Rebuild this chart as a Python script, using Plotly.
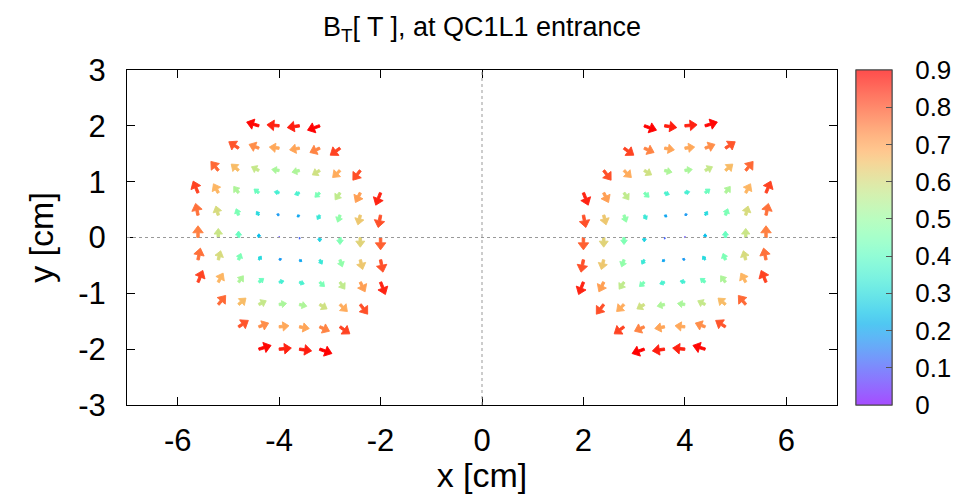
import math
import plotly.graph_objects as go

# Grid rows (y, cm), top to bottom
row_y = [2.0, 1.6, 1.2, 0.8, 0.4, 0.0, -0.4, -0.8, -1.2, -1.6, -2.0]

# Left aperture: sample positions (x, cm) per row and transverse field (T)
left_x = [
    [-4.4, -4.0, -3.6, -3.2],
    [-4.8, -4.4, -4.0, -3.6, -3.2, -2.8],
    [-5.2, -4.8, -4.4, -4.0, -3.6, -3.2, -2.8, -2.4],
    [-5.6, -5.2, -4.8, -4.4, -4.0, -3.6, -3.2, -2.8, -2.4, -2.0],
    [-5.6, -5.2, -4.8, -4.4, -4.0, -3.6, -3.2, -2.8, -2.4, -2.0],
    [-5.6, -5.2, -4.8, -4.4, -4.0, -3.6, -3.2, -2.8, -2.4, -2.0],
    [-5.6, -5.2, -4.8, -4.4, -4.0, -3.6, -3.2, -2.8, -2.4, -2.0],
    [-5.6, -5.2, -4.8, -4.4, -4.0, -3.6, -3.2, -2.8, -2.4, -2.0],
    [-5.2, -4.8, -4.4, -4.0, -3.6, -3.2, -2.8, -2.4],
    [-4.8, -4.4, -4.0, -3.6, -3.2, -2.8],
    [-4.4, -4.0, -3.6, -3.2],
]
left_bx = [
    [-0.86, -0.86, -0.86, -0.86],
    [-0.69, -0.69, -0.69, -0.69, -0.69, -0.69],
    [-0.52, -0.52, -0.52, -0.52, -0.52, -0.52, -0.52, -0.52],
    [-0.34, -0.34, -0.34, -0.34, -0.34, -0.34, -0.34, -0.34, -0.34, -0.34],
    [-0.17, -0.17, -0.17, -0.17, -0.17, -0.17, -0.17, -0.17, -0.17, -0.17],
    [0.00, 0.00, 0.00, 0.00, 0.00, 0.00, 0.00, 0.00, 0.00, 0.00],
    [0.17, 0.17, 0.17, 0.17, 0.17, 0.17, 0.17, 0.17, 0.17, 0.17],
    [0.34, 0.34, 0.34, 0.34, 0.34, 0.34, 0.34, 0.34, 0.34, 0.34],
    [0.52, 0.52, 0.52, 0.52, 0.52, 0.52, 0.52, 0.52],
    [0.69, 0.69, 0.69, 0.69, 0.69, 0.69],
    [0.86, 0.86, 0.86, 0.86],
]
left_by = [
    [0.24, 0.07, -0.11, -0.28],
    [0.41, 0.24, 0.07, -0.11, -0.28, -0.45],
    [0.58, 0.41, 0.24, 0.07, -0.11, -0.28, -0.45, -0.62],
    [0.75, 0.58, 0.41, 0.24, 0.07, -0.11, -0.28, -0.45, -0.62, -0.79],
    [0.75, 0.58, 0.41, 0.24, 0.07, -0.11, -0.28, -0.45, -0.62, -0.79],
    [0.75, 0.58, 0.41, 0.24, 0.07, -0.11, -0.28, -0.45, -0.62, -0.79],
    [0.75, 0.58, 0.41, 0.24, 0.07, -0.11, -0.28, -0.45, -0.62, -0.79],
    [0.75, 0.58, 0.41, 0.24, 0.07, -0.11, -0.28, -0.45, -0.62, -0.79],
    [0.58, 0.41, 0.24, 0.07, -0.11, -0.28, -0.45, -0.62],
    [0.41, 0.24, 0.07, -0.11, -0.28, -0.45],
    [0.24, 0.07, -0.11, -0.28],
]

# Right aperture
right_x = [
    [3.2, 3.6, 4.0, 4.4],
    [2.8, 3.2, 3.6, 4.0, 4.4, 4.8],
    [2.4, 2.8, 3.2, 3.6, 4.0, 4.4, 4.8, 5.2],
    [2.0, 2.4, 2.8, 3.2, 3.6, 4.0, 4.4, 4.8, 5.2, 5.6],
    [2.0, 2.4, 2.8, 3.2, 3.6, 4.0, 4.4, 4.8, 5.2, 5.6],
    [2.0, 2.4, 2.8, 3.2, 3.6, 4.0, 4.4, 4.8, 5.2, 5.6],
    [2.0, 2.4, 2.8, 3.2, 3.6, 4.0, 4.4, 4.8, 5.2, 5.6],
    [2.0, 2.4, 2.8, 3.2, 3.6, 4.0, 4.4, 4.8, 5.2, 5.6],
    [2.4, 2.8, 3.2, 3.6, 4.0, 4.4, 4.8, 5.2],
    [2.8, 3.2, 3.6, 4.0, 4.4, 4.8],
    [3.2, 3.6, 4.0, 4.4],
]
right_bx = [
    [0.86, 0.86, 0.86, 0.86],
    [0.69, 0.69, 0.69, 0.69, 0.69, 0.69],
    [0.52, 0.52, 0.52, 0.52, 0.52, 0.52, 0.52, 0.52],
    [0.34, 0.34, 0.34, 0.34, 0.34, 0.34, 0.34, 0.34, 0.34, 0.34],
    [0.17, 0.17, 0.17, 0.17, 0.17, 0.17, 0.17, 0.17, 0.17, 0.17],
    [0.00, 0.00, 0.00, 0.00, 0.00, 0.00, 0.00, 0.00, 0.00, 0.00],
    [-0.17, -0.17, -0.17, -0.17, -0.17, -0.17, -0.17, -0.17, -0.17, -0.17],
    [-0.34, -0.34, -0.34, -0.34, -0.34, -0.34, -0.34, -0.34, -0.34, -0.34],
    [-0.52, -0.52, -0.52, -0.52, -0.52, -0.52, -0.52, -0.52],
    [-0.69, -0.69, -0.69, -0.69, -0.69, -0.69],
    [-0.86, -0.86, -0.86, -0.86],
]
right_by = [
    [-0.28, -0.11, 0.07, 0.24],
    [-0.45, -0.28, -0.11, 0.07, 0.24, 0.41],
    [-0.62, -0.45, -0.28, -0.11, 0.07, 0.24, 0.41, 0.58],
    [-0.79, -0.62, -0.45, -0.28, -0.11, 0.07, 0.24, 0.41, 0.58, 0.75],
    [-0.79, -0.62, -0.45, -0.28, -0.11, 0.07, 0.24, 0.41, 0.58, 0.75],
    [-0.79, -0.62, -0.45, -0.28, -0.11, 0.07, 0.24, 0.41, 0.58, 0.75],
    [-0.79, -0.62, -0.45, -0.28, -0.11, 0.07, 0.24, 0.41, 0.58, 0.75],
    [-0.79, -0.62, -0.45, -0.28, -0.11, 0.07, 0.24, 0.41, 0.58, 0.75],
    [-0.62, -0.45, -0.28, -0.11, 0.07, 0.24, 0.41, 0.58],
    [-0.45, -0.28, -0.11, 0.07, 0.24, 0.41],
    [-0.28, -0.11, 0.07, 0.24],
]

cbar_ticks = [0.0, 0.1, 0.2, 0.3, 0.4, 0.5, 0.6, 0.7, 0.8, 0.9]
cbar_labels = ["0", "0.1", "0.2", "0.3", "0.4", "0.5", "0.6", "0.7", "0.8", "0.9"]
x_ticks = [-6, -4, -2, 0, 2, 4, 6]
x_tick_labels = ["-6", "-4", "-2", "0", "2", "4", "6"]
y_ticks = [-3, -2, -1, 0, 1, 2, 3]
y_tick_labels = ["-3", "-2", "-1", "0", "1", "2", "3"]

# ---- layout geometry ----
FIG_W, FIG_H = 957, 494
MARGIN = dict(l=127, r=120, t=70, b=89, autoexpand=False)
X_RANGE = [-7, 7]
Y_RANGE = [-3, 3]
PLOT_W = FIG_W - MARGIN["l"] - MARGIN["r"]
PLOT_H = FIG_H - MARGIN["t"] - MARGIN["b"]
PX_X = PLOT_W / (X_RANGE[1] - X_RANGE[0])   # pixels per cm along x
PX_Y = PLOT_H / (Y_RANGE[1] - Y_RANGE[0])   # pixels per cm along y
VEC_SCALE = 0.28    # cm of arrow per tesla
B_MAX = 0.9
FONT = "Liberation Sans, Arial, Helvetica, sans-serif"
CBAR_X = (856 - MARGIN["l"]) / PLOT_W


def rainbow(t):
    """gnuplot rgbformulae 33,13,10 palette."""
    t = min(max(t, 0.0), 1.0)
    r = min(abs(2 * t - 0.5), 1.0)
    g = math.sin(math.pi * t)
    b = math.cos(math.pi * t / 2)
    return (r, g, max(b, 0.0))


def rgb_css(c, fade=0.0):
    r, g, b = (v + (1 - v) * fade for v in c)
    return "rgb(%d,%d,%d)" % (round(r * 255), round(g * 255), round(b * 255))


def arrow_outline(x0, y0, bx, by):
    """Filled arrow (shaft + head) from the tail point, built in pixel space."""
    vx = bx * VEC_SCALE * PX_X
    vy = by * VEC_SCALE * PX_Y
    length = math.hypot(vx, vy)
    if length == 0:
        return None
    ux, uy = vx / length, vy / length
    nx, ny = -uy, ux
    head = min(0.62 * length, 7.0)
    half_w = 0.75 * head
    shaft = min(1.25, 0.45 * half_w)
    base = length - head
    pts = [
        (nx * shaft, ny * shaft),
        (ux * base + nx * shaft, uy * base + ny * shaft),
        (ux * base + nx * half_w, uy * base + ny * half_w),
        (vx, vy),
        (ux * base - nx * half_w, uy * base - ny * half_w),
        (ux * base - nx * shaft, uy * base - ny * shaft),
        (-nx * shaft, -ny * shaft),
    ]
    xs = [x0 + px / PX_X for px, _ in pts]
    ys = [y0 + py / PX_Y for _, py in pts]
    xs.append(xs[0])
    ys.append(ys[0])
    return xs, ys


fig = go.Figure()

for xs_rows, bx_rows, by_rows in ((left_x, left_bx, left_by), (right_x, right_bx, right_by)):
    for yv, xr, bxr, byr in zip(row_y, xs_rows, bx_rows, by_rows):
        for xv, bx, by in zip(xr, bxr, byr):
            shape = arrow_outline(xv, yv, bx, by)
            if shape is None:
                continue
            mag = math.hypot(bx, by)
            col = rgb_css(rainbow(mag / B_MAX))
            fig.add_trace(go.Scatter(
                x=shape[0], y=shape[1], mode="lines", fill="toself",
                fillcolor=col, line=dict(color=col, width=0.9),
                hoverinfo="skip", showlegend=False,
            ))

# colour bar (labels), plus an overlay that only carries the inner tick marks
n_stops = 30
bar_scale = [[i / (n_stops - 1), rgb_css(rainbow(i / (n_stops - 1)), fade=0.3)]
             for i in range(n_stops)]
cbar_common = dict(
    thickness=36, thicknessmode="pixels", len=1.0, lenmode="fraction",
    x=CBAR_X, xanchor="left", y=0.5, yanchor="middle", xpad=0, ypad=0,
    outlinewidth=1, outlinecolor="#444", tickvals=cbar_ticks,
)
fig.add_trace(go.Scatter(
    x=[None], y=[None], mode="markers", hoverinfo="skip", showlegend=False,
    marker=dict(
        color=[0.0], cmin=0.0, cmax=B_MAX, colorscale=bar_scale, showscale=True,
        colorbar=dict(
            ticktext=cbar_labels, ticks="outside", ticklen=18,
            tickcolor="rgba(0,0,0,0)",
            tickfont=dict(family=FONT, size=26, color="black"),
            **cbar_common,
        ),
    ),
))
fig.add_trace(go.Scatter(
    x=[None], y=[None], mode="markers", hoverinfo="skip", showlegend=False,
    marker=dict(
        color=[0.0], cmin=0.0, cmax=B_MAX, colorscale=bar_scale, showscale=True,
        colorbar=dict(
            ticks="inside", ticklen=6, tickcolor="#555", tickwidth=1,
            showticklabels=False, **cbar_common,
        ),
    ),
))

# dotted zero axes
fig.add_hline(y=0, line=dict(color="#999", width=1, dash="dot"))
fig.add_vline(x=0, line=dict(color="#999", width=1, dash="dot"))

axis_common = dict(
    showgrid=False, zeroline=False, showline=True, linecolor="black", linewidth=1,
    mirror="allticks", ticks="inside", ticklen=8, tickcolor="black",
    tickfont=dict(family=FONT, size=31, color="black"),
)
fig.update_xaxes(range=X_RANGE, tickvals=x_ticks, ticktext=x_tick_labels,
                 ticklabelstandoff=8,
                 title=dict(text="x [cm]", font=dict(family=FONT, size=34, color="black"),
                            standoff=4),
                 **axis_common)
fig.update_yaxes(range=Y_RANGE, tickvals=y_ticks, ticktext=y_tick_labels,
                 ticklabelstandoff=14,
                 title=dict(text="y [cm]", font=dict(family=FONT, size=34, color="black"),
                            standoff=14),
                 **axis_common)

fig.update_layout(
    width=FIG_W, height=FIG_H, margin=MARGIN,
    paper_bgcolor="white", plot_bgcolor="white",
    title=dict(text="B<sub>T</sub>[ T ], at QC1L1 entrance",
               font=dict(family=FONT, size=27, color="black"),
               x=0.5, xref="paper", xanchor="center", y=1 - 27 / FIG_H, yanchor="middle"),
)

fig.write_html("out.html")
